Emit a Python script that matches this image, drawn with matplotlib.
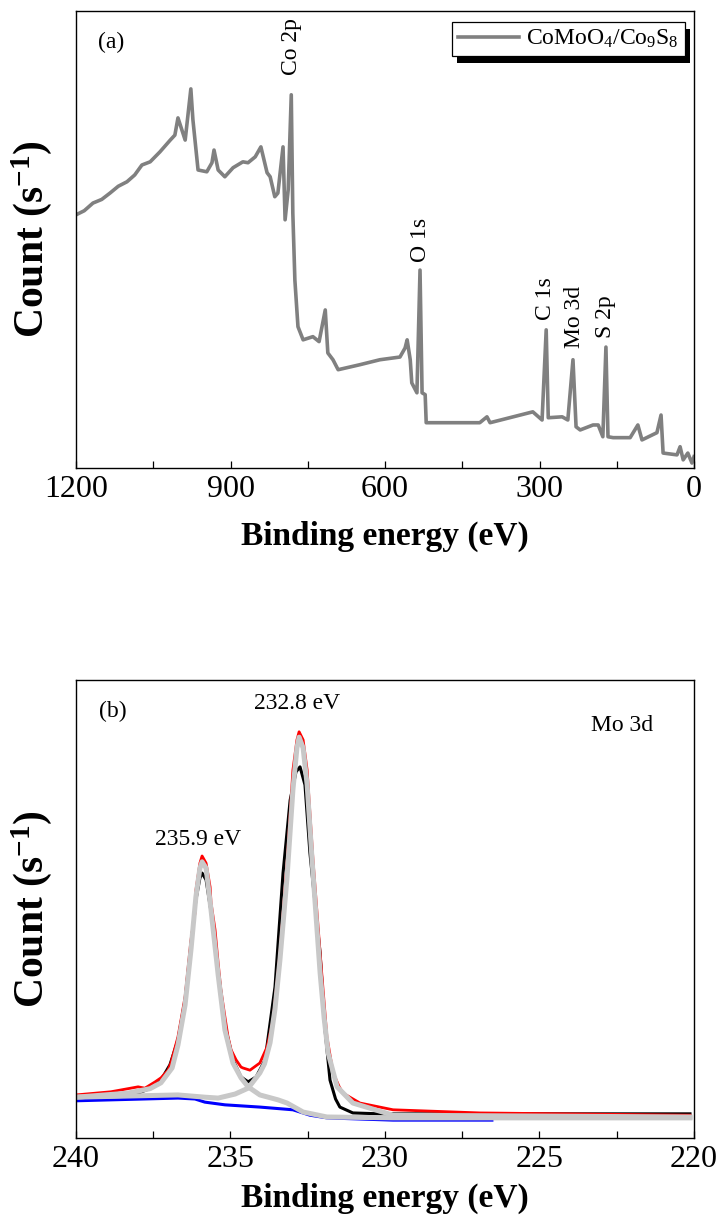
import matplotlib
matplotlib.use('Agg')
import matplotlib.pyplot as plt
from matplotlib.patches import Rectangle
from matplotlib.ticker import MultipleLocator

plt.rcParams['font.family'] = ['Liberation Serif', 'DejaVu Serif']
plt.rcParams['mathtext.fontset'] = 'custom'
plt.rcParams['mathtext.rm'] = 'Liberation Serif'
plt.rcParams['mathtext.it'] = 'Liberation Serif:italic'
plt.rcParams['mathtext.bf'] = 'Liberation Serif:bold'

# (a) survey spectrum (arbitrary count units)
survey_energy = [1200, 1184, 1167, 1150, 1134, 1118, 1101, 1086, 1072, 1056,
                 1037, 1017, 1008, 1002, 988, 977, 973, 963, 946, 936,
                 932, 924, 911, 895, 876, 866, 852, 841, 829, 823,
                 814, 808, 798, 794, 788, 782, 779, 775, 769, 759,
                 740, 728, 716, 711, 701, 691, 649, 610, 571, 561,
                 557, 551, 548, 538, 532, 528, 522, 520, 499, 416,
                 402, 396, 313, 295, 287, 283, 256, 245, 235, 229,
                 221, 196, 186, 177, 171, 167, 157, 124, 109, 101,
                 72, 64, 60, 33, 27, 21, 12, 4, 0]
survey_count = [55.2, 56.1, 57.8, 58.6, 60.0, 61.5, 62.5, 64.0, 66.2, 66.9,
                69.1, 71.7, 72.8, 76.6, 71.7, 83.0, 76.2, 65.1, 64.7, 66.7,
                69.5, 65.1, 63.6, 65.6, 66.9, 66.7, 68.0, 70.2, 64.5, 63.6,
                59.2, 60.0, 70.2, 54.1, 60.7, 81.7, 55.6, 40.8, 30.5, 27.6,
                28.3, 27.2, 34.2, 24.7, 23.2, 21.0, 22.1, 23.2, 23.8, 25.8,
                27.6, 23.2, 18.1, 15.9, 43.0, 15.9, 15.5, 9.3, 9.3, 9.3,
                10.6, 9.3, 11.7, 9.9, 29.8, 10.4, 10.6, 9.9, 23.2, 8.4,
                7.7, 8.8, 8.8, 6.2, 26.0, 6.2, 6.0, 6.0, 8.8, 5.5,
                7.1, 11.0, 2.6, 2.2, 4.0, 1.1, 2.6, 0.4, 1.8]
peak_names = ['Co 2p', 'O 1s', 'C 1s', 'Mo 3d', 'S 2p']
peak_name_energy = [781, 532, 289, 233, 171]
peak_name_count = [86.1, 44.8, 32.0, 25.8, 28.0]

# (b) Mo 3d high resolution spectrum and fit
raw_energy = [240.0, 238.87, 237.99, 237.50, 237.25, 236.96, 236.70, 236.47, 236.28, 236.12,
              235.99, 235.92, 235.79, 235.63, 235.40, 235.18, 234.92, 234.66, 234.43, 234.17,
              233.88, 233.56, 233.30, 233.07, 232.88, 232.75, 232.59, 232.43, 232.10, 231.95,
              231.78, 231.60, 231.46, 231.04, 230.16, 226.93, 220.13]
raw_count = [8.2, 8.7, 9.3, 10.6, 12.2, 15.6, 21.1, 30.0, 42.2, 52.2,
             57.1, 58.2, 56.7, 49.6, 36.7, 24.4, 16.7, 12.9, 11.8, 12.9,
             16.7, 32.9, 58.2, 74.4, 80.7, 81.8, 77.8, 62.7, 40.4, 24.0,
             12.2, 8.0, 6.2, 4.9, 4.7, 4.7, 4.7]

env_energy = [240.0, 238.87, 237.99, 237.77, 237.44, 237.25, 237.02, 236.93, 236.70, 236.60,
              236.47, 236.38, 236.28, 236.15, 236.12, 235.99, 235.92, 235.79, 235.66, 235.63,
              235.50, 235.40, 235.31, 235.18, 235.08, 234.98, 234.82, 234.66, 234.60, 234.37,
              234.05, 233.82, 233.62, 233.40, 233.17, 232.98, 232.85, 232.78, 232.65, 232.52,
              232.33, 232.10, 231.88, 231.68, 231.48, 231.36, 230.81, 229.74, 226.93, 220.13]
env_count = [8.9, 9.6, 10.7, 10.4, 11.8, 12.7, 14.4, 16.0, 21.8, 25.6,
             30.7, 36.7, 43.3, 49.3, 54.4, 60.4, 62.0, 60.4, 55.1, 51.6,
             45.6, 38.2, 32.2, 26.2, 21.8, 18.9, 16.7, 15.1, 14.9, 14.4,
             16.0, 19.5, 25.6, 40.4, 60.4, 81.1, 87.8, 89.6, 87.8, 81.1,
             61.1, 40.4, 21.8, 13.8, 10.7, 9.3, 7.1, 5.6, 4.9, 4.4]

fit1_energy = [240.0, 238.32, 237.60, 237.25, 236.89, 236.70, 236.47, 236.28, 236.12, 235.99,
               235.92, 235.79, 235.63, 235.40, 235.18, 234.92, 234.66, 234.43, 234.05, 233.46,
               233.17, 232.65, 231.88, 229.74, 220.13]
fit1_count = [8.4, 9.3, 10.3, 11.6, 14.9, 20.0, 28.9, 41.1, 52.9, 59.3,
              60.7, 59.3, 50.0, 35.6, 23.3, 16.0, 12.7, 10.7, 8.9, 7.8,
              7.1, 5.1, 4.0, 3.8, 3.8]

fit2_energy = [240.0, 236.70, 235.83, 235.40, 234.85, 234.43, 234.05, 233.90, 233.72, 233.56,
               233.40, 233.17, 232.98, 232.85, 232.78, 232.65, 232.52, 232.36, 232.10, 231.97,
               231.84, 231.55, 231.04, 229.74, 220.13]
fit2_count = [8.4, 8.9, 8.4, 8.2, 9.1, 10.4, 13.8, 15.8, 20.5, 28.0,
              38.9, 57.3, 76.7, 86.0, 88.4, 86.0, 77.8, 61.1, 36.0, 26.0,
              18.2, 10.7, 7.1, 4.4, 4.0]

bg_energy = [240.0, 236.70, 236.15, 235.83, 235.18, 234.05, 232.98, 232.43, 231.88, 229.74, 226.54]
bg_count = [7.6, 8.2, 8.0, 7.3, 6.7, 6.2, 5.6, 4.4, 3.8, 3.3, 3.3]


def style_axes(ax):
    for sp in ax.spines.values():
        sp.set_linewidth(1.0)
    ax.set_yticks([])
    ax.tick_params(axis='x', which='both', direction='in', length=5, width=0.9,
                   labelsize=23, pad=5, top=False)
    ax.set_ylabel(r'Count (s$^{\mathbf{-1}}$)', fontsize=30, fontweight='bold')
    ax.yaxis.set_label_coords(-0.036, 0.5)


fig = plt.figure(figsize=(7.24, 12.28), dpi=100)
ax1 = fig.add_axes([76 / 724, 1 - 468 / 1228, 618 / 724, 457 / 1228])
ax2 = fig.add_axes([76 / 724, 1 - 1138 / 1228, 618 / 724, 458 / 1228])

# ---- panel (a)
ax1.plot(survey_energy, survey_count, color='#808080', lw=2.6,
         solid_joinstyle='round', label=r'CoMoO$_4$/Co$_9$S$_8$')
ax1.set_xlim(1200, 0)
ax1.set_ylim(-0.7, 100.2)
ax1.xaxis.set_major_locator(MultipleLocator(300))
ax1.xaxis.set_minor_locator(MultipleLocator(150))
style_axes(ax1)
ax1.set_xlabel('Binding energy (eV)', fontsize=24, fontweight='bold', labelpad=12)
for name, e, c in zip(peak_names, peak_name_energy, peak_name_count):
    ax1.text(e, c, name, rotation=90, ha='center', va='bottom', fontsize=17)
ax1.text(0.057, 0.932, '(a)', transform=ax1.transAxes, ha='center', va='center', fontsize=17)

leg = ax1.legend(loc='upper right', bbox_to_anchor=(0.985, 0.976), borderaxespad=0,
                 fancybox=False, framealpha=1, edgecolor='black', fontsize=17,
                 handlelength=2.6, borderpad=0.25, handletextpad=0.3)
leg.get_frame().set_linewidth(0.9)

# ---- panel (b)
ax2.plot(raw_energy, raw_count, color='black', lw=2.2, solid_joinstyle='round')
ax2.plot(env_energy, env_count, color='red', lw=2.0, solid_joinstyle='round')
ax2.plot(bg_energy, bg_count, color='blue', lw=2.2, solid_joinstyle='round')
ax2.plot(fit1_energy, fit1_count, color='#c8c8c8', lw=3.6, solid_joinstyle='round')
ax2.plot(fit2_energy, fit2_count, color='#c8c8c8', lw=3.6, solid_joinstyle='round')
ax2.set_xlim(240, 220)
ax2.set_ylim(-0.67, 101.1)
ax2.xaxis.set_major_locator(MultipleLocator(5))
ax2.xaxis.set_minor_locator(MultipleLocator(2.5))
style_axes(ax2)
ax2.set_xlabel('Binding energy (eV)', fontsize=24, fontweight='bold', labelpad=6)
ax2.text(238.8, 94.0, '(b)', ha='center', va='center', fontsize=17)
ax2.text(232.85, 95.8, '232.8 eV', ha='center', va='center', fontsize=17)
ax2.text(236.05, 65.6, '235.9 eV', ha='center', va='center', fontsize=17)
ax2.text(222.33, 91.0, 'Mo 3d', ha='center', va='center', fontsize=17)

# black drop shadow behind the legend box
fig.canvas.draw()
bb = leg.get_window_extent()
inv = ax1.transAxes.inverted()
x0, y0 = inv.transform((bb.x0 + 5, bb.y0 - 7))
x1, y1 = inv.transform((bb.x1 + 5, bb.y1 - 7))
ax1.add_patch(Rectangle((x0, y0), x1 - x0, y1 - y0, transform=ax1.transAxes,
                        facecolor='black', edgecolor='none', zorder=4.9, clip_on=False))

fig.savefig('out.png', dpi=100)
